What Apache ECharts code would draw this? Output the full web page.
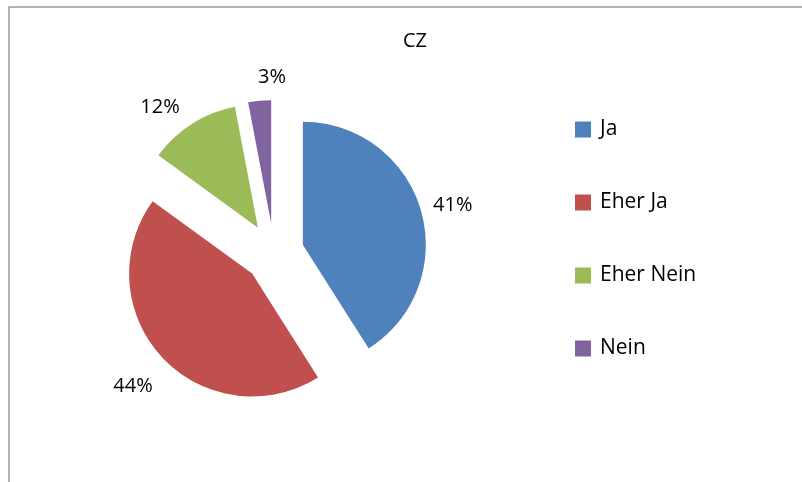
<!DOCTYPE html>
<html>
<head>
<meta charset="utf-8">
<script src="https://cdn.jsdelivr.net/npm/echarts@6/dist/echarts.min.js"></script>
<style>
html,body{margin:0;padding:0;background:#fff;}
#chart{width:802px;height:482px;}
</style>
</head>
<body>
<div id="chart"></div>
<script>
const title = 'CZ';
const categories = ['Ja', 'Eher Ja', 'Eher Nein', 'Nein'];
const values = [41, 44, 12, 3];
const colors = ['#4F81BD', '#C0504D', '#9BBB59', '#8064A2'];

const FONT = '"Open Sans", "Noto Sans", sans-serif';
// small label nudges (style only), mimicking Excel's best-fit placement
const labelNudge = [[0, 3], [-4, 9], [-12, 7], [20, 4]];

const chart = echarts.init(document.getElementById('chart'), null, {renderer: 'canvas'});

const data = categories.map((c, i) => ({
  name: c,
  value: values[i],
  selected: true,
  itemStyle: {color: colors[i]}
}));

chart.setOption({
  animation: false,
  backgroundColor: '#fff',
  graphic: [{
    type: 'rect',
    shape: {x: 9, y: 7, width: 820, height: 500},
    style: {fill: 'none', stroke: '#9a9a9a', lineWidth: 1.5},
    silent: true
  }],
  title: {
    text: title,
    left: 398,
    top: 26,
    textStyle: {fontFamily: FONT, fontSize: 20, fontWeight: 'normal', color: '#000'}
  },
  legend: {
    orient: 'vertical',
    left: 575,
    top: 119,
    padding: 0,
    icon: 'rect',
    itemWidth: 16,
    itemHeight: 16,
    itemGap: 52,
    selectedMode: false,
    data: categories,
    textStyle: {fontFamily: FONT, fontSize: 21, color: '#000', padding: [0, 0, 0, 4]}
  },
  series: [{
    type: 'pie',
    center: [274, 253],
    radius: 123,
    startAngle: 90,
    clockwise: true,
    selectedMode: 'multiple',
    selectedOffset: 30,
    avoidLabelOverlap: false,
    emphasis: {disabled: true, scale: false},
    select: {itemStyle: {}},
    data: data,
    label: {
      show: true,
      position: 'outside',
      formatter: p => p.value + '%',
      fontFamily: FONT,
      fontSize: 20,
      color: '#000',
      distanceToLabelLine: 5
    },
    labelLine: {show: false, length: 28, length2: 0},
    labelLayout: p => ({
      align: 'center',
      dx: labelNudge[p.dataIndex][0],
      dy: labelNudge[p.dataIndex][1]
    })
  }]
});
</script>
</body>
</html>
